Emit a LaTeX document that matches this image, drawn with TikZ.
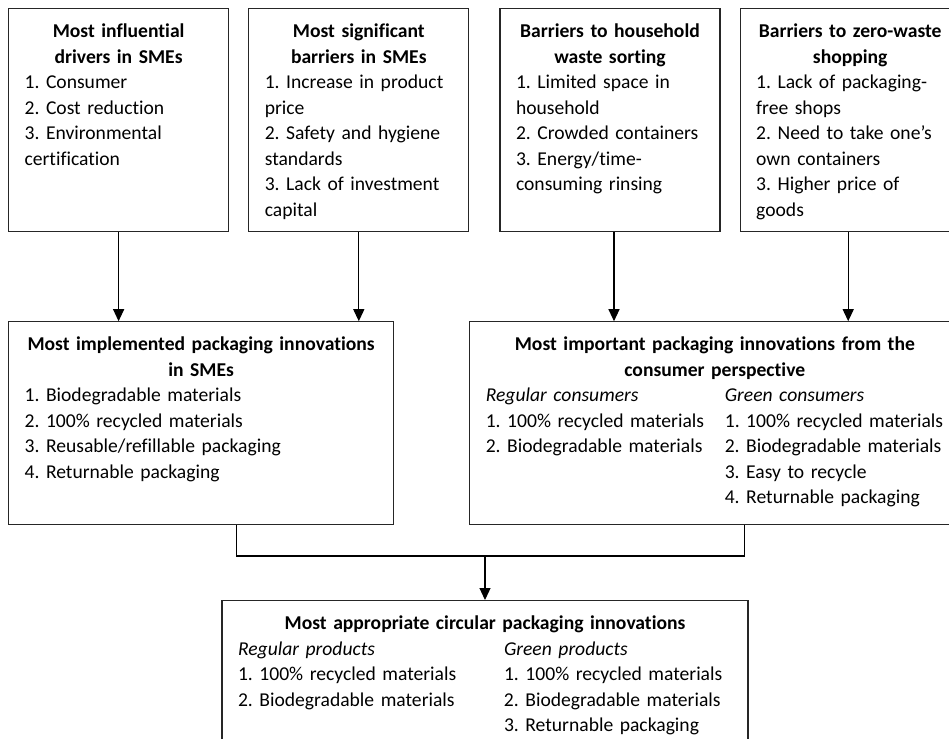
\documentclass[tikz,border=0pt]{standalone}
\usepackage{fontspec}
\setmainfont{Carlito}[Ligatures=NoCommon]
\usepackage{tikz}
\usetikzlibrary{arrows.meta}
\usetikzlibrary{positioning}
\frenchspacing
\newcommand{\heading}[1]{{\centering\bfseries #1\par}}
\tikzset{
    arrow/.style={-{Triangle[length=12pt, width=11pt]}, line width=1.2pt},
    link/.style={line width=1.2pt},
    box/.style = {
      draw=black!85,
      line width=1.2pt,
      rectangle,
      align=left,
      inner xsep=16pt,
      inner ysep=9pt,
      text height=20pt,
      font=\fontsize{19.6}{25.5}\selectfont
    },
    topbox/.style = {box, text width=188pt, text depth=185pt},
    midbox/.style = {box, text depth=165pt},
}
\begin{document}
\begin{tikzpicture}[x=1pt, y=-1pt]
      \useasboundingbox (0,0) rectangle (949,738);

      % top row
      \node [topbox, anchor=north west] (drivers) at (8,8)
            {\heading{Most influential\\drivers in SMEs}1. Consumer\\2. Cost reduction\\3. Environmental\\certification};
      \node [topbox, right=19pt of drivers] (barriers)
            {\heading{Most significant\\barriers in SMEs}1. Increase in product\\price\\2. Safety and hygiene\\standards\\3. Lack of investment\\capital};
      \node [topbox, right=30pt of barriers] (sorting)
            {\heading{Barriers to household\\waste sorting}1. Limited space in\\household\\2. Crowded containers\\3. Energy/time-\\consuming rinsing};
      \node [topbox, right=19pt of sorting] (shopping)
            {\heading{Barriers to zero-waste\\shopping}1. Lack of packaging-\\free shops\\2. Need to take one’s\\own containers\\3. Higher price of\\goods};

      % middle row
      \node [midbox, text width=353pt, below=89pt of drivers.south west, anchor=north west] (implemented)
            {\heading{Most implemented packaging innovations\\in SMEs}1. Biodegradable materials\\2. 100\% recycled materials\\3. Reusable/refillable packaging\\4. Returnable packaging};
      \node [midbox, text width=458pt, right=75pt of implemented.north east, anchor=north west] (consumer)
            {\heading{Most important packaging innovations from the\\consumer perspective}%
             \begin{tabular}[t]{@{}p{239pt}@{}l@{}}
               \textit{Regular consumers} & \textit{Green consumers}\\
               1. 100\% recycled materials & 1. 100\% recycled materials\\
               2. Biodegradable materials & 2. Biodegradable materials\\
               & 3. Easy to recycle\\
               & 4. Returnable packaging
             \end{tabular}};

      % bottom
      \node [box, text width=494pt, text depth=200pt, anchor=north] (circular) at (485,600)
            {\heading{Most appropriate circular packaging innovations}%
             \begin{tabular}[t]{@{}p{266pt}@{}l@{}}
               \textit{Regular products} & \textit{Green products}\\
               1. 100\% recycled materials & 1. 100\% recycled materials\\
               2. Biodegradable materials & 2. Biodegradable materials\\
               & 3. Returnable packaging
             \end{tabular}};

      \draw [arrow] (drivers.south) -- (drivers.south |- implemented.north);
      \draw [arrow] (barriers.south) -- (barriers.south |- implemented.north);
      \draw [arrow] ([xshift=4pt]sorting.south) -- ([xshift=4pt]sorting.south |- consumer.north);
      \draw [arrow] ([xshift=-2pt]shopping.south) -- ([xshift=-2pt]shopping.south |- consumer.north);

      \coordinate (join) at (485,556);
      \draw [link] ([xshift=35pt]implemented.south) |- (join) -| ([xshift=30pt]consumer.south);
      \draw [arrow] (join) -- (circular);
\end{tikzpicture}
\end{document}
